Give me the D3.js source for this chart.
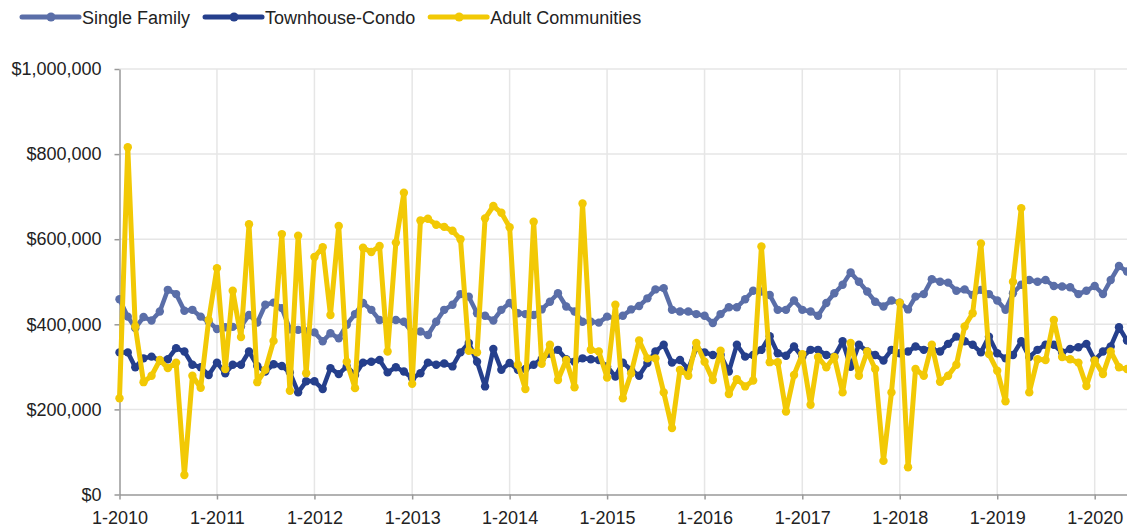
<!DOCTYPE html>
<html>
  <head>
    <meta charset="utf-8">
    <title>Median Sales Price</title>
    <style>
      body { margin: 0; background: #fff; }
      text { font-family: "Liberation Sans", Arial, sans-serif; fill: #222; }
      .grid line { stroke: #e6e6e6; stroke-width: 1.5px; }
      .axis path, .axis line { stroke: #999; stroke-width: 1.5px; }
      .axis text { font-size: 18px; fill: #222; }
      .legend text { font-size: 18px; }
    </style>
    <script src="https://cdn.jsdelivr.net/npm/d3@7"></script>
  </head>
  <body>
  <script type="text/javascript">
    var width = 1127;
    var height = 530;

    // monthly values, 1-2010 .. 5-2020 (thousands of dollars)
    var startMonth = "2010-01";
    var seriesNames = ["Single Family", "Townhouse-Condo", "Adult Communities"];
    var seriesColors = ["#5a6ea8", "#253f8c", "#f2c905"];

    var singleFamily = [459, 418, 391, 417, 409, 430, 481, 471, 432, 434, 418, 406,
      389, 393, 394, 395, 422, 404, 446, 451, 438, 388, 387, 383,
      381, 360, 379, 367, 399, 424, 450, 434, 410, 406, 410, 406,
      381, 383, 375, 406, 434, 446, 471, 465, 426, 420, 409, 434,
      450, 426, 424, 422, 435, 453, 473, 442, 430, 406, 406, 404,
      418, 414, 420, 435, 443, 461, 482, 485, 434, 430, 430, 424,
      420, 403, 424, 440, 440, 459, 479, 477, 469, 434, 434, 456,
      434, 430, 420, 450, 473, 493, 522, 500, 477, 453, 442, 456,
      451, 435, 465, 471, 506, 500, 498, 479, 482, 469, 481, 471,
      456, 434, 473, 493, 504, 500, 504, 490, 489, 487, 471, 479,
      490, 471, 504, 537, 524];

    var townhouseCondo = [334, 334, 299, 320, 324, 315, 318, 344, 336, 305, 299, 281,
      310, 285, 305, 305, 336, 302, 289, 306, 302, 287, 240, 266,
      266, 248, 297, 283, 301, 281, 310, 312, 316, 287, 299, 289,
      273, 285, 310, 305, 308, 301, 334, 356, 312, 254, 342, 293,
      309, 293, 295, 305, 318, 331, 340, 318, 312, 320, 318, 316,
      301, 277, 310, 293, 279, 309, 336, 352, 310, 316, 295, 344,
      334, 328, 328, 289, 352, 324, 328, 340, 372, 332, 326, 348,
      323, 340, 340, 328, 324, 360, 300, 352, 336, 328, 315, 340,
      332, 336, 348, 340, 342, 336, 354, 371, 360, 352, 334, 371,
      332, 320, 328, 360, 323, 340, 352, 352, 334, 342, 346, 354,
      316, 336, 348, 393, 362];

    var adultCommunities = [226, 816, 395, 264, 279, 316, 297, 310, 46, 279, 251, 410,
      532, 295, 479, 370, 635, 264, 293, 361, 612, 244, 608, 285,
      558, 581, 422, 631, 312, 250, 580, 570, 584, 336, 592, 709,
      260, 644, 648, 634, 629, 620, 600, 338, 334, 649, 678, 662,
      628, 305, 248, 641, 307, 352, 269, 316, 252, 684, 340, 336,
      275, 446, 226, 285, 362, 320, 320, 240, 156, 293, 279, 356,
      312, 269, 338, 236, 271, 254, 268, 583, 311, 311, 195, 281,
      330, 211, 323, 299, 323, 240, 356, 279, 336, 295, 79, 240,
      451, 64, 295, 279, 352, 265, 279, 305, 395, 426, 590, 330,
      291, 219, 500, 673, 240, 318, 316, 410, 323, 318, 310, 255,
      315, 283, 336, 299, 295];

    var yTicks = [0, 200000, 400000, 600000, 800000, 1000000];

    var allSeries = [singleFamily, townhouseCondo, adultCommunities];
    var t0 = d3.timeParse("%Y-%m")(startMonth);
    var months = singleFamily.map(function(d, i){ return d3.timeMonth.offset(t0, i); });

    var svg = d3.select("body")
                .append("svg")
                .attr("width", width)
                .attr("height", height);

    var x = d3.scaleTime()
        .domain([t0, months[months.length - 1]])
        .range([119.5, 1127]);

    var y = d3.scaleLinear()
        .domain([0, 1000000])
        .range([494.5, 69]);

    var yearTicks = d3.timeYear.range(t0, months[months.length - 1]);

    // gridlines
    svg.append("g").attr("class", "grid")
       .selectAll("line.h").data(yTicks.slice(1)).enter()
       .append("line")
         .attr("x1", 119.5).attr("x2", width)
         .attr("y1", function(d){ return y(d); })
         .attr("y2", function(d){ return y(d); });

    svg.append("g").attr("class", "grid")
       .selectAll("line.v").data(yearTicks.slice(1)).enter()
       .append("line")
         .attr("x1", function(d){ return x(d); })
         .attr("x2", function(d){ return x(d); })
         .attr("y1", y(1000000)).attr("y2", y(0));

    // axes
    svg.append("g").attr("class", "axis")
       .attr("transform", "translate(0," + y(0) + ")")
       .call(d3.axisBottom(x).tickValues(yearTicks)
             .tickFormat(d3.timeFormat("%-m-%Y"))
             .tickSize(5).tickPadding(12).tickSizeOuter(0));

    svg.append("g").attr("class", "axis")
       .attr("transform", "translate(" + x(t0) + ",0)")
       .call(d3.axisLeft(y).tickValues(yTicks)
             .tickFormat(d3.format("$,"))
             .tickSize(5).tickPadding(13).tickSizeOuter(0));

    svg.selectAll(".axis .domain").attr("stroke", "#999");

    // series
    var line = d3.line()
        .x(function(d, i){ return x(months[i]); })
        .y(function(d){ return y(d * 1000); });

    allSeries.forEach(function(values, s){
      var g = svg.append("g");
      g.append("path")
        .attr("d", line(values))
        .attr("fill", "none")
        .attr("stroke", seriesColors[s])
        .attr("stroke-width", s == 2 ? 5 : 4.5)
        .attr("stroke-linejoin", "round");
      g.selectAll("circle").data(values).enter()
        .append("circle")
          .attr("cx", function(d, i){ return x(months[i]); })
          .attr("cy", function(d){ return y(d * 1000); })
          .attr("r", 4.2)
          .attr("fill", seriesColors[s]);
    });

    // legend
    var legend = svg.append("g").attr("class", "legend");
    var lx = 22;
    seriesNames.forEach(function(name, s){
      legend.append("line")
        .attr("x1", lx).attr("x2", lx + 57)
        .attr("y1", 17).attr("y2", 17)
        .attr("stroke", seriesColors[s])
        .attr("stroke-width", 5)
        .attr("stroke-linecap", "round");
      legend.append("circle")
        .attr("cx", lx + 29).attr("cy", 17).attr("r", 4.5)
        .attr("fill", seriesColors[s]);
      var t = legend.append("text")
        .attr("x", lx + 60).attr("y", 23.5)
        .text(name);
      lx += 60 + t.node().getComputedTextLength() + 15;
    });
  </script>
  </body>
</html>
